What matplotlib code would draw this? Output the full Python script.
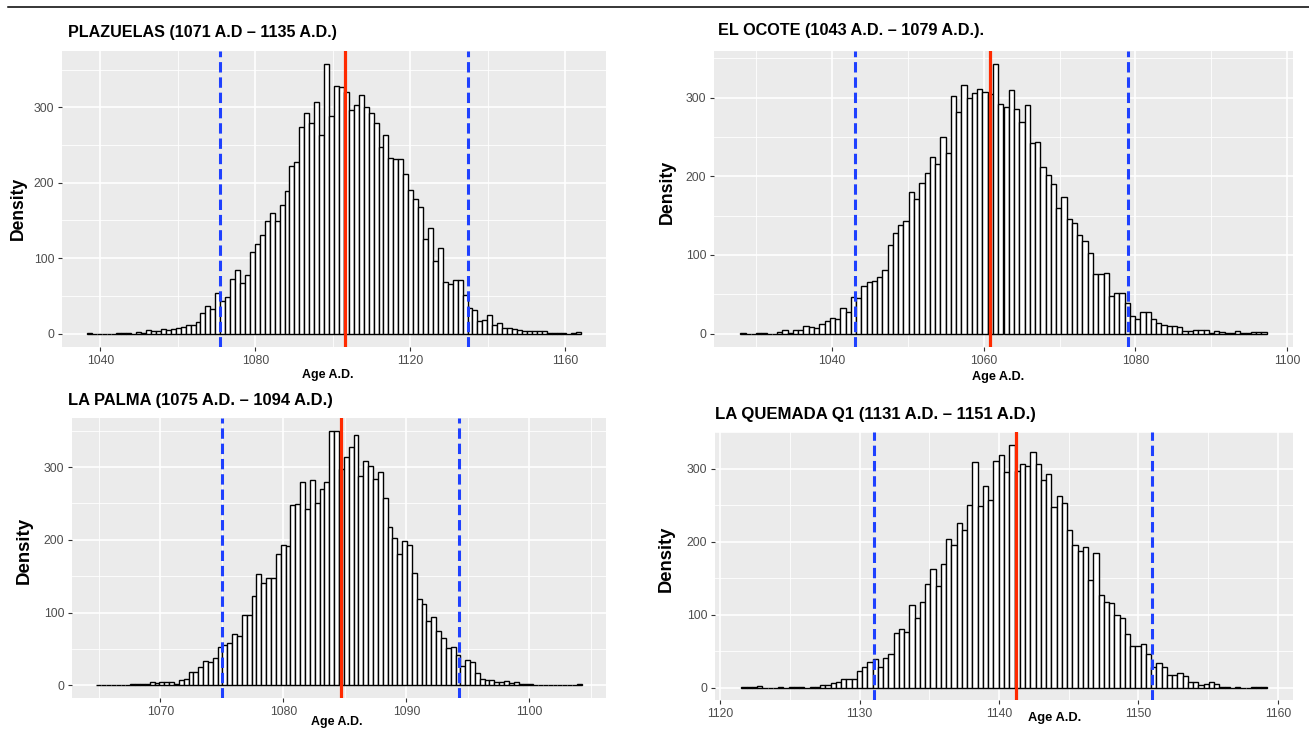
import matplotlib
matplotlib.use('Agg')
import matplotlib.pyplot as plt
from matplotlib.lines import Line2D
import numpy as np

W, H = 1309, 731

# ================= DATA (counts per bin) =================
plaz_range = (1036.5, 1164.1)
plaz_counts = [1, 0, 0, 0, 0, 0, 1, 1, 1, 0, 2, 1, 5, 3, 3, 6, 5, 6, 8, 9,
               12, 12, 15, 27, 37, 32, 54, 43, 48, 73, 84, 67, 78, 108, 119, 131, 149, 160, 149, 170,
               189, 222, 227, 274, 292, 279, 307, 263, 357, 289, 329, 327, 320, 297, 303, 317, 300, 292, 279, 247,
               263, 233, 232, 231, 212, 191, 179, 168, 126, 140, 96, 114, 68, 66, 71, 71, 51, 34, 31, 16,
               18, 25, 11, 14, 8, 7, 6, 5, 3, 3, 3, 3, 3, 1, 1, 1, 1, 0, 1, 2]
plaz_ci = (1071, 1135)
plaz_mean = 1103.1

ocote_range = (1027.9, 1097.3)
ocote_counts = [1, 0, 0, 1, 1, 0, 0, 2, 4, 1, 4, 5, 9, 8, 7, 12, 16, 20, 19, 33,
                27, 47, 45, 60, 65, 67, 72, 81, 113, 128, 138, 143, 180, 171, 191, 204, 225, 216, 250, 230,
                302, 282, 316, 300, 306, 311, 307, 305, 342, 292, 288, 310, 286, 269, 290, 242, 244, 212, 202, 190,
                159, 174, 146, 141, 125, 118, 103, 76, 76, 77, 48, 51, 52, 39, 22, 19, 27, 27, 18, 13,
                11, 10, 9, 8, 3, 3, 5, 5, 4, 1, 3, 2, 1, 1, 3, 1, 1, 2, 2, 2]
ocote_ci = (1043, 1079)
ocote_mean = 1060.8

palma_range = (1064.8, 1104.25)
palma_counts = [1, 0, 0, 0, 0, 0, 1, 2, 2, 2, 2, 5, 3, 4, 4, 5, 2, 7, 8, 18,
                18, 25, 33, 32, 38, 52, 55, 58, 70, 68, 96, 97, 123, 153, 141, 147, 147, 181, 193, 191,
                248, 249, 280, 243, 282, 250, 270, 280, 349, 350, 298, 314, 328, 344, 288, 309, 301, 284, 293, 258,
                218, 203, 181, 198, 193, 154, 119, 112, 89, 94, 74, 65, 51, 53, 41, 27, 35, 32, 17, 8,
                7, 7, 5, 5, 6, 3, 4, 2, 2, 2, 1, 1, 1, 1, 0, 1, 0, 0, 1, 2]
palma_ci = (1075, 1094.3)
palma_mean = 1084.7

quem_range = (1121.5, 1159.2)
quem_counts = [1, 1, 1, 3, 0, 0, 0, 1, 0, 1, 1, 1, 0, 1, 1, 4, 4, 6, 8, 12,
               12, 12, 23, 29, 36, 39, 29, 41, 47, 75, 80, 77, 114, 95, 117, 142, 163, 140, 170, 204,
               195, 226, 216, 250, 309, 249, 276, 257, 311, 319, 295, 332, 297, 306, 304, 323, 306, 285, 293, 248,
               262, 253, 216, 195, 187, 193, 148, 185, 127, 117, 116, 99, 95, 73, 57, 57, 60, 47, 29, 34,
               29, 18, 17, 20, 16, 8, 8, 4, 5, 8, 5, 1, 1, 0, 1, 0, 0, 1, 1, 1]
quem_ci = (1131, 1151)
quem_mean = 1141.2

titles = ['PLAZUELAS (1071 A.D \u2013 1135 A.D.)',
          'EL OCOTE (1043 A.D. \u2013 1079 A.D.).',
          'LA PALMA (1075 A.D. \u2013 1094 A.D.)',
          'LA QUEMADA Q1 (1131 A.D. \u2013 1151 A.D.)']
xlabel = 'Age A.D.'
ylabel = 'Density'

# ================= STYLE =================
BLUE = '#1E40FF'
RED = '#FF2A00'
PANEL_BG = '#EBEBEB'
TICK_TXT = '#4D4D4D'
SANS = ['Liberation Sans', 'DejaVu Sans']
NARROW = ['Liberation Sans Narrow', 'Liberation Sans', 'DejaVu Sans']

fig = plt.figure(figsize=(W / 100, H / 100), dpi=100)
fig.patch.set_facecolor('white')


def box(l, t, r, b):
    return [l / W, 1 - b / H, (r - l) / W, (b - t) / H]


def draw_panel(ax, rng, counts, ci, mean, xticks, xminor):
    counts = np.asarray(counts, dtype=float)
    edges = np.linspace(rng[0], rng[1], len(counts) + 1)
    bw = edges[1] - edges[0]
    ax.set_facecolor(PANEL_BG)
    ax.bar(edges[:-1], counts, width=bw, align='edge', color='white',
           edgecolor='black', linewidth=1.0, zorder=2)
    for c in ci:
        ax.axvline(c, color=BLUE, lw=2.2, ls=(0, (3.4, 1.6)), zorder=3)
    ax.axvline(mean, color=RED, lw=2.3, zorder=3)

    span = rng[1] - rng[0]
    ax.set_xlim(rng[0] - 0.05 * span, rng[1] + 0.05 * span)
    top = counts.max()
    ax.set_ylim(-0.05 * top, 1.05 * top)

    ax.set_xticks(xticks)
    ax.set_xticks(xminor, minor=True)
    ax.set_yticks([0, 100, 200, 300])
    ax.set_yticks([50, 150, 250, 350], minor=True)
    ax.set_axisbelow(True)
    ax.grid(which='major', color='white', lw=1.2)
    ax.grid(which='minor', color='white', lw=0.6)
    for s in ax.spines.values():
        s.set_visible(False)
    ax.tick_params(which='major', length=3, width=0.8, color='#333333',
                   labelsize=8.8, labelcolor=TICK_TXT, pad=2.5)
    ax.tick_params(which='minor', length=0)
    for lab in ax.get_xticklabels() + ax.get_yticklabels():
        lab.set_family(SANS)


ax1 = fig.add_axes(box(62, 51, 606, 347))
draw_panel(ax1, plaz_range, plaz_counts, plaz_ci, plaz_mean,
           [1040, 1080, 1120, 1160], [1060, 1100, 1140])

ax2 = fig.add_axes(box(714, 51, 1293, 347))
draw_panel(ax2, ocote_range, ocote_counts, ocote_ci, ocote_mean,
           [1040, 1060, 1080, 1100], [1030, 1050, 1070, 1090])

ax3 = fig.add_axes(box(72, 418, 606, 698))
draw_panel(ax3, palma_range, palma_counts, palma_ci, palma_mean,
           [1070, 1080, 1090, 1100], [1065, 1075, 1085, 1095, 1105])

ax4 = fig.add_axes(box(715, 432, 1293, 700))
draw_panel(ax4, quem_range, quem_counts, quem_ci, quem_mean,
           [1120, 1130, 1140, 1150, 1160], [1125, 1135, 1145, 1155])

# top rule
fig.add_artist(Line2D([8 / W, 1.0], [1 - 7 / H, 1 - 7 / H],
                      transform=fig.transFigure, color='black', lw=1.1))

renderer = fig.canvas.get_renderer()


def put(text, x, y, size_px, family, ha='center', rot=0, fs=12):
    t = fig.text(x / W, 1 - y / H, text, ha=ha, va='center', rotation=rot,
                 fontweight='bold', family=family, fontsize=fs, color='black')
    bb = t.get_window_extent(renderer)
    cur = bb.height if rot == 90 else bb.width
    t.set_fontsize(fs * size_px / cur)
    return t


# titles (x = left edge, y = centre, target width px)
put(titles[0], 68, 32, 269, NARROW, ha='left')
put(titles[1], 718, 30, 264, NARROW, ha='left')
put(titles[2], 68, 400, 264, NARROW, ha='left')
put(titles[3], 715, 415, 320, NARROW, ha='left')

# x labels
put(xlabel, 328, 375, 51, NARROW)
put(xlabel, 998, 377, 52, NARROW)
put(xlabel, 337, 722, 51, NARROW)
put(xlabel, 1055, 718, 53, NARROW)

# y labels
put(ylabel, 18, 208, 63, SANS, rot=90)
put(ylabel, 667, 192, 64, SANS, rot=90)
put(ylabel, 24, 550, 67, SANS, rot=90)
put(ylabel, 666, 559, 66, SANS, rot=90)

fig.savefig('out.png', dpi=100, facecolor='white')
